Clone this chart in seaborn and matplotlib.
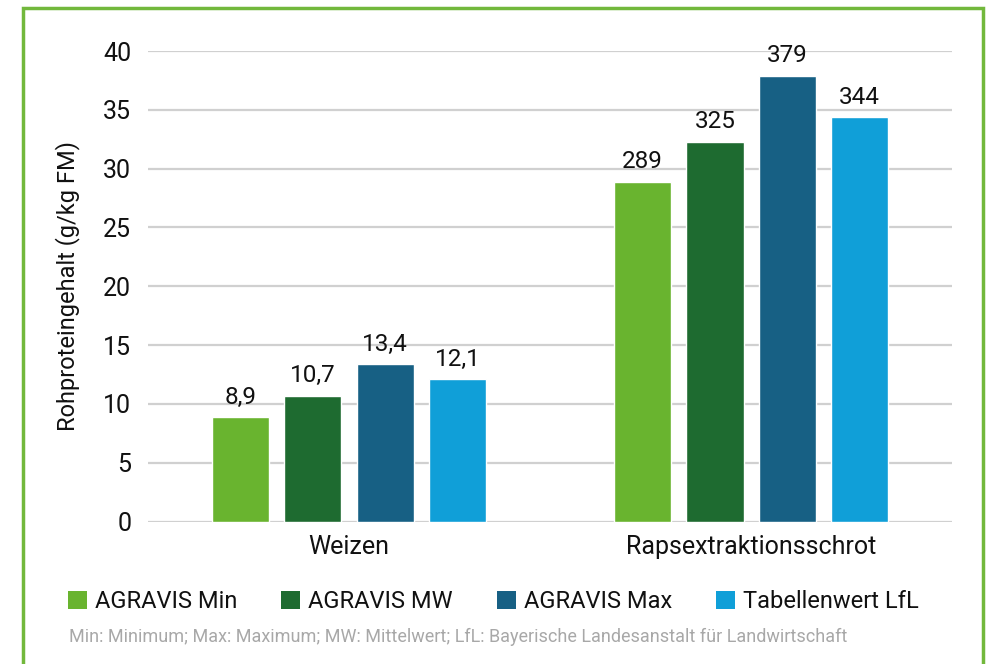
import pandas as pd
import matplotlib.pyplot as plt
import seaborn as sns
from matplotlib.patches import Rectangle, Patch

# Werte aus dem Diagramm
futtermittel = ['Weizen', 'Rapsextraktionsschrot']
serien = ['AGRAVIS Min', 'AGRAVIS MW', 'AGRAVIS Max', 'Tabellenwert LfL']
weizen = [8.9, 10.7, 13.4, 12.1]
raps = [28.9, 32.3, 37.9, 34.4]
weizen_labels = ['8,9', '10,7', '13,4', '12,1']
raps_labels = ['289', '325', '379', '344']
farben = ['#69b42f', '#1e6b30', '#176084', '#109fd8']
fussnote = 'Min: Minimum; Max: Maximum; MW: Mittelwert; LfL: Bayerische Landesanstalt für Landwirtschaft'

df = pd.DataFrame({
    'Futtermittel': [futtermittel[0]] * 4 + [futtermittel[1]] * 4,
    'Serie': serien + serien,
    'Wert': weizen + raps,
})

sns.set_style('white')
plt.rcParams['font.family'] = ['Roboto', 'DejaVu Sans']

fig = plt.figure(figsize=(9.95, 6.64), dpi=100)
ax = fig.add_axes([0.1487, 0.2146, 0.8083, 0.7085])

sns.barplot(data=df, x='Futtermittel', y='Wert', hue='Serie', hue_order=serien,
            palette=farben, width=0.72, gap=0.21, errorbar=None, legend=False,
            saturation=1, ax=ax)

for i, cont in enumerate(ax.containers):
    ax.bar_label(cont, labels=[weizen_labels[i], raps_labels[i]], padding=6,
                 fontsize=17.5, color='#111111')

ax.set_xlim(-0.5, 1.5)
ax.set_ylim(0, 40)
ax.set_yticks(range(0, 41, 5))
ax.yaxis.grid(True, color='#d0d0d0', linewidth=1.6)
ax.set_axisbelow(True)
sns.despine(ax=ax, left=True, bottom=True)
ax.tick_params(axis='both', length=0, labelsize=18, colors='#111111')
ax.tick_params(axis='y', pad=12)
ax.tick_params(axis='x', pad=10)
ax.set_xlabel('')
ax.set_ylabel('Rohproteingehalt (g/kg FM)', fontsize=17, color='#111111', labelpad=17)

handles = [Patch(facecolor=c, edgecolor='none') for c in farben]
fig.legend(handles, serien, loc='center left', bbox_to_anchor=(0.047, 0.094), ncol=4,
           frameon=False, fontsize=17, handlelength=0.8, handleheight=0.8,
           handletextpad=0.35, columnspacing=1.85, labelcolor='#111111')

fig.text(0.069, 0.040, fussnote, fontsize=13, color='#a8a8a8', va='center')

# gruener Rahmen
fig.patches.append(Rectangle((0.0236, -0.1), 0.9643, 1.088, transform=fig.transFigure,
                             fill=False, edgecolor='#72b83c', linewidth=2.5))

fig.savefig('out.png', dpi=100)
